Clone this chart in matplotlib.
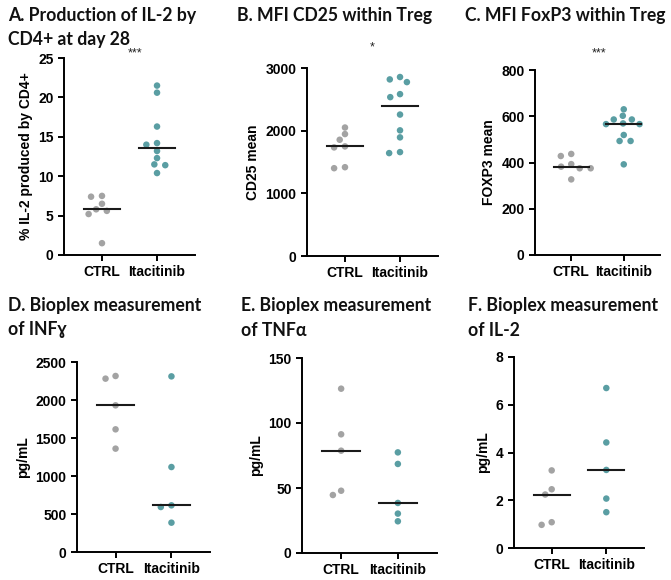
import numpy as np
import matplotlib
matplotlib.use("Agg")
import matplotlib.pyplot as plt

groups = ["CTRL", "Itacitinib"]

# Panel data
a_ctrl = [7.4, 7.5, 5.8, 6.5, 5.2, 5.6, 1.5]
a_ita = [21.5, 20.6, 16.3, 14.2, 14.0, 13.2, 12.3, 11.5, 11.4, 10.4]
b_ctrl = [2050, 1855, 1946, 1733, 1749, 1401, 1417]
b_ita = [2856, 2775, 2818, 2535, 2583, 2257, 2005, 1893, 1642, 1658]
c_ctrl = [437, 428, 393, 375, 375, 382, 327]
c_ita = [630, 586, 586, 602, 566, 566, 569, 519, 493, 493, 392]
d_ctrl = [2316, 2281, 1930, 1614, 1360]
d_ita = [2311, 1118, 614, 592, 386]
e_ctrl = [126.4, 91.3, 78.7, 44.6, 47.9]
e_ita = [77.4, 68.5, 38.5, 30.3, 24.4]
f_ctrl = [3.25, 2.46, 2.24, 0.97, 1.08]
f_ita = [6.70, 4.42, 3.27, 2.07, 1.50]

titles = ["A. Production of IL-2 by\nCD4+ at day 28",
          "B. MFI CD25 within Treg",
          "C. MFI FoxP3 within Treg",
          "D. Bioplex measurement\nof INF\u0263",
          "E. Bioplex measurement\nof TNF\u03b1",
          "F. Bioplex measurement\nof IL-2"]
ylabels = ["% IL-2 produced by CD4+", "CD25 mean", "FOXP3 mean",
           "pg/mL", "pg/mL", "pg/mL"]
yticks = [[0, 5, 10, 15, 20, 25], [0, 1000, 2000, 3000], [0, 200, 400, 600, 800],
          [0, 500, 1000, 1500, 2000, 2500], [0, 50, 100, 150], [0, 2, 4, 6, 8]]
stars = ["***", "*", "***", "", "", ""]
data = [(a_ctrl, a_ita), (b_ctrl, b_ita), (c_ctrl, c_ita),
        (d_ctrl, d_ita), (e_ctrl, e_ita), (f_ctrl, f_ita)]

GREY = "#a3a3a3"
TEAL = "#5a9ea3"

W, H = 671, 580
fig = plt.figure(figsize=(W / 100, H / 100), dpi=100)

# axes boxes in pixels: left, right, top, bottom
boxes = [(64, 195, 58, 255), (307, 438, 68, 256), (535, 660, 70, 255),
         (77, 210, 362, 552), (302, 437, 358, 553), (514, 644, 357, 548)]
title_pos = [(8, 27), (237, 15), (465, 15), (8, 318), (241, 318), (468, 318)]
star_pos = [(0.6, 1.025), (0.49, 1.11), (0.52, 1.09), None, None, None]

TICKFONT = dict(family="Liberation Sans", weight="bold", size=10)


def swarm(ax, xc, vals, sx, sy):
    trans = ax.transData
    pts = [trans.transform((xc, v)) for v in vals]
    order = np.argsort(vals)[::-1]
    placed = []
    xs = np.zeros(len(vals))

    def collides(x, y):
        for (qx, qy) in placed:
            if ((x - qx) / sx) ** 2 + ((y - qy) / sy) ** 2 < 1 - 1e-6:
                return True
        return False

    for i in order:
        px, py = pts[i]
        cands = [0.0]
        for (qx, qy) in placed:
            dy = py - qy
            if abs(dy) < sy:
                dx = sx * np.sqrt(1 - (dy / sy) ** 2)
                cands += [qx - px + dx, qx - px - dx]
        cands = sorted(cands, key=lambda c: (abs(c), c))
        c = 0.0
        for c in cands:
            if not collides(px + c, py):
                break
        placed.append((px + c, py))
        xs[i] = trans.inverted().transform((px + c, py))[0]
    return xs


for k in range(6):
    l, r, t, b = boxes[k]
    ax = fig.add_axes([l / W, (H - b) / H, (r - l) / W, (b - t) / H])
    ax.set_xlim(-0.69, 1.69)
    ax.set_ylim(0, yticks[k][-1])
    for s in ["top", "right"]:
        ax.spines[s].set_visible(False)
    for s in ["left", "bottom"]:
        ax.spines[s].set_linewidth(1.4)
    ax.tick_params(width=1.4, length=4, direction="out")
    ax.set_yticks(yticks[k])
    ax.set_yticklabels([str(v) for v in yticks[k]], fontdict=TICKFONT)
    ax.set_xticks([0, 1])
    ax.set_xticklabels(groups, fontdict=TICKFONT)
    ax.set_ylabel(ylabels[k], fontdict=dict(family="Liberation Sans", weight="bold", size=10))
    for gi, (vals, col) in enumerate(zip(data[k], [GREY, TEAL])):
        xs = swarm(ax, gi, vals, 11.0, 6.5)
        ax.scatter(xs, vals, s=22, color=col, edgecolors="none", zorder=3, clip_on=False)
        med = np.median(vals)
        ax.plot([gi - 0.33, gi + 0.33], [med, med], color="#1a1a1a", lw=1.5, zorder=4)
    if stars[k]:
        sx_, sy_ = star_pos[k]
        ax.text(sx_, sy_, stars[k], transform=ax.get_xaxis_transform(), ha="center",
                va="center", fontsize=9, family="Liberation Sans", color="#222222")
    tx, ty = title_pos[k]
    fig.text(tx / W, (H - ty) / H, titles[k], ha="left", va="center",
             family=["Lato", "DejaVu Sans"], weight="bold", fontsize=12.7,
             linespacing=1.5, color="#111111")

fig.savefig("out.png", dpi=100)
